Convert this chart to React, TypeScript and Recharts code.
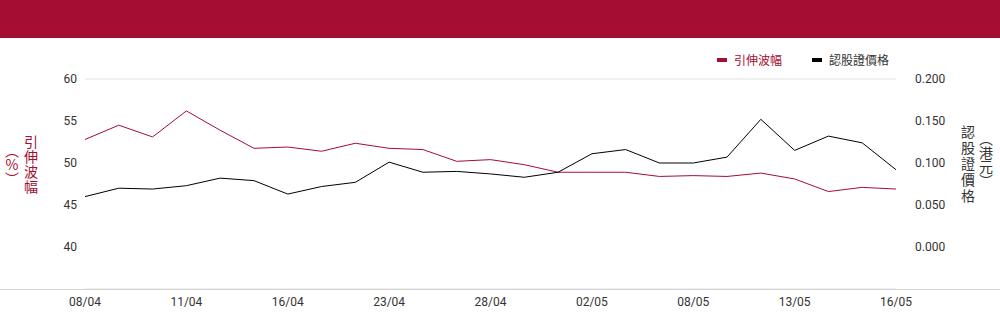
import { LineChart, Line, XAxis, YAxis, CartesianGrid } from "recharts";

const dates = [
    "08/04", "09/04", "10/04", "11/04", "14/04", "15/04", "16/04", "17/04", "22/04", "23/04",
    "24/04", "25/04", "28/04", "29/04", "30/04", "02/05", "06/05", "07/05", "08/05", "09/05",
    "12/05", "13/05", "14/05", "15/05", "16/05",
];

// implied volatility (%)
const impliedVol = [
    52.8, 54.5, 53.1, 56.2, 53.9, 51.75, 51.9, 51.4, 52.35, 51.75,
    51.6, 50.2, 50.4, 49.8, 48.9, 48.9, 48.9, 48.4, 48.5, 48.4,
    48.8, 48.1, 46.6, 47.1, 46.9,
];

// warrant price (HKD)
const warrantPrice = [
    0.060, 0.070, 0.069, 0.073, 0.082, 0.079, 0.063, 0.072, 0.077, 0.101,
    0.089, 0.090, 0.087, 0.083, 0.089, 0.111, 0.116, 0.100, 0.100, 0.107,
    0.152, 0.115, 0.132, 0.124, 0.092,
];

const leftTicks = [40, 45, 50, 55, 60];
const rightTicks = [0, 0.05, 0.1, 0.15, 0.2];

const RED = "#a50d32";
const DARK = "#333333";
const CJK = "'Noto Sans CJK TC', sans-serif";

const data = dates.map((d, i) => ({ date: d, vol: impliedVol[i], price: warrantPrice[i] }));

const legendItems = [
    { label: "引伸波幅", color: RED, text: RED },
    { label: "認股證價格", color: "#000", text: DARK },
];

// one column of vertical text
function VLabel({ text, x, y, color, gap }: { text: string; x: number; y: number; color: string; gap: number }) {
    return (
        <div
            style={{
                position: "absolute", left: x, top: y, transform: "translate(-50%, -50%)",
                writingMode: "vertical-rl", textOrientation: "upright", letterSpacing: gap,
                fontFamily: CJK, fontSize: 14, lineHeight: 1, color, whiteSpace: "nowrap",
            }}
        >
            {text}
        </div>
    );
}

export default function App() {
    const font = "Roboto, 'Noto Sans CJK TC', sans-serif";
    return (
        <div style={{ position: "absolute", left: 0, top: 0, width: 1000, height: 324, background: "#fff", fontFamily: font, overflow: "hidden" }}>
            <div style={{ height: 38, background: RED }} />
            <div style={{ position: "absolute", left: 0, top: 38 }}>
                <LineChart width={1000} height={286} data={data} margin={{ top: 41, right: 0, bottom: 0, left: 0 }}>
                    <CartesianGrid vertical={false} stroke="#e2e2e2" />
                    <XAxis
                        dataKey="date"
                        interval={2}
                        axisLine={false}
                        tickLine={false}
                        height={35}
                        tick={{ fill: DARK, fontSize: 12 }}
                    />
                    <YAxis
                        yAxisId="left"
                        width={85}
                        domain={[35, 60]}
                        ticks={leftTicks}
                        axisLine={false}
                        tickLine={false}
                        tick={{ fill: DARK, fontSize: 12 }}
                    />
                    <YAxis
                        yAxisId="right"
                        orientation="right"
                        width={104}
                        domain={[-0.05, 0.2]}
                        ticks={rightTicks}
                        axisLine={false}
                        tickLine={false}
                        tickMargin={13}
                        tickFormatter={(v: number) => v.toFixed(3)}
                        tick={{ fill: DARK, fontSize: 12, textAnchor: "start" }}
                    />
                    <Line yAxisId="left" type="linear" dataKey="vol" stroke={RED} strokeWidth={1} dot={false} isAnimationActive={false} />
                    <Line yAxisId="right" type="linear" dataKey="price" stroke="#000" strokeWidth={1} dot={false} isAnimationActive={false} />
                </LineChart>
            </div>
            {/* legend */}
            <div style={{ position: "absolute", left: 717, top: 51, display: "flex", fontSize: 12, fontFamily: CJK }}>
                {legendItems.map((it, i) => (
                    <div key={it.label} style={{ display: "flex", alignItems: "center", marginLeft: i === 0 ? 0 : 30 }}>
                        <span style={{ width: 10, height: 4, background: it.color, marginRight: 7 }} />
                        <span style={{ color: it.text }}>{it.label}</span>
                    </div>
                ))}
            </div>
            <div style={{ position: "absolute", left: 0, top: 289, width: 1000, height: 1, background: "#d4d4d4" }} />
            {/* axis titles */}
            <VLabel text="引伸波幅" x={31} y={165} color={RED} gap={1} />
            <VLabel text="︵%︶" x={12} y={165} color={RED} gap={0} />
            <VLabel text="認股證價格" x={968} y={165} color={DARK} gap={2} />
            <VLabel text="︵港元︶" x={986} y={160} color={DARK} gap={0} />
        </div>
    );
}
